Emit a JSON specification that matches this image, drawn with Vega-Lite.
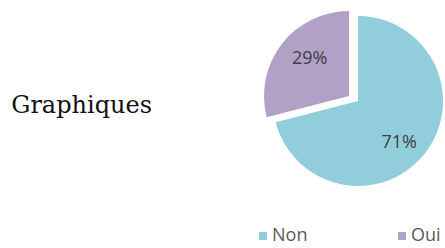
{
  "$schema": "https://vega.github.io/schema/vega-lite/v6.json",
  "width": 174,
  "height": 174,
  "autosize": {"type": "none"},
  "padding": {"left": 271, "top": 14, "right": 0, "bottom": 60},
  "background": "white",
  "config": {"view": {"stroke": null}},
  "title": {
    "text": "Graphiques",
    "orient": "left",
    "anchor": "middle",
    "angle": 0,
    "align": "left",
    "baseline": "middle",
    "offset": 102,
    "dy": 5,
    "font": "DejaVu Serif",
    "fontSize": 24,
    "fontWeight": "normal",
    "color": "#111111"
  },
  "data": {
    "values": [
      {"reponse": "Non", "part": 0.71},
      {"reponse": "Oui", "part": 0.29}
    ]
  },
  "encoding": {
    "theta": {"field": "part", "type": "quantitative", "stack": true},
    "order": {"field": "reponse", "sort": "ascending"}
  },
  "layer": [
    {
      "mark": {"type": "arc", "radius": 85},
      "encoding": {
        "color": {
          "field": "reponse",
          "type": "nominal",
          "scale": {"domain": ["Non", "Oui"], "range": ["#92CDDC", "#B2A1C7"]},
          "legend": {
            "orient": "none",
            "legendX": -17,
            "legendY": 213,
            "direction": "horizontal",
            "title": null,
            "symbolType": "square",
            "symbolSize": 64,
            "symbolStrokeWidth": 0,
            "labelFont": "Open Sans",
            "labelFontSize": 18,
            "labelColor": "#595959",
            "labelOffset": 0,
            "columnPadding": 85
          }
        },
        "opacity": {"condition": {"test": "datum.reponse === 'Oui'", "value": 0}, "value": 1}
      }
    },
    {
      "mark": {"type": "arc", "radius": 85, "xOffset": -9, "yOffset": -5},
      "encoding": {
        "color": {"field": "reponse", "type": "nominal"},
        "opacity": {"condition": {"test": "datum.reponse === 'Non'", "value": 0}, "value": 1}
      }
    },
    {
      "mark": {"type": "text", "radius": 56, "xOffset": -3, "yOffset": 8, "font": "Open Sans", "fontSize": 18, "color": "#404040"},
      "encoding": {
        "detail": {"field": "reponse", "type": "nominal"},
        "text": {"field": "part", "type": "quantitative", "format": ".0%"},
        "opacity": {"condition": {"test": "datum.reponse === 'Oui'", "value": 0}, "value": 1}
      }
    },
    {
      "mark": {"type": "text", "radius": 56, "xOffset": -4, "yOffset": -8, "font": "Open Sans", "fontSize": 18, "color": "#404040"},
      "encoding": {
        "detail": {"field": "reponse", "type": "nominal"},
        "text": {"field": "part", "type": "quantitative", "format": ".0%"},
        "opacity": {"condition": {"test": "datum.reponse === 'Non'", "value": 0}, "value": 1}
      }
    }
  ]
}
